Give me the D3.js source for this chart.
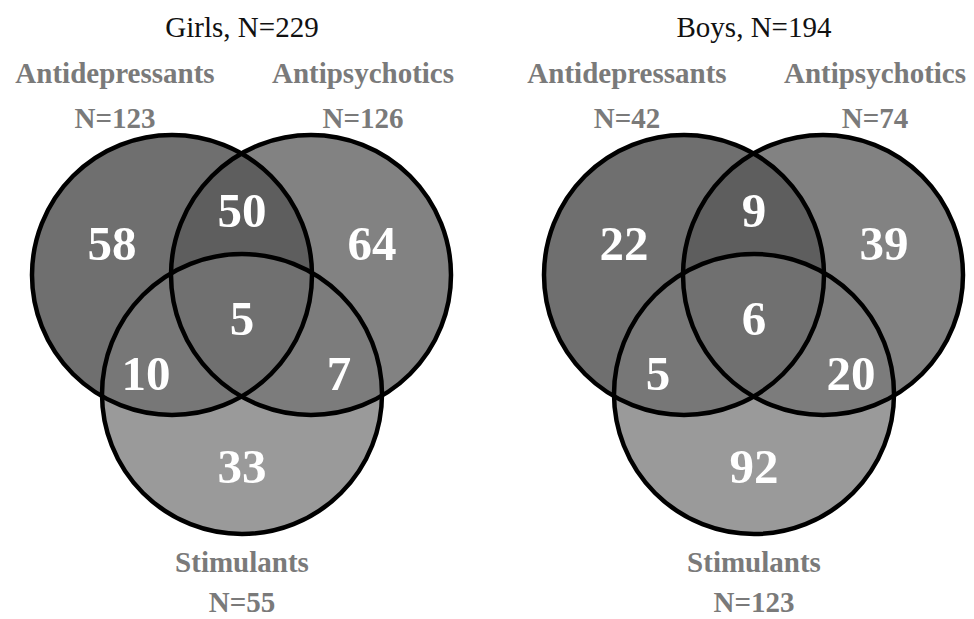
<!DOCTYPE html>
<html>
<head>
<meta charset="utf-8">
<script src="https://cdn.jsdelivr.net/npm/d3@7"></script>
<style>
  body { margin: 0; background: #fff; }
  svg text { font-family: "Liberation Serif", "Times New Roman", serif; }
</style>
</head>
<body>
<svg id="chart"></svg>
<script>
// Chart data
const panelTitles = ["Girls, N=229", "Boys, N=194"];
const setNames = ["Antidepressants", "Antipsychotics", "Stimulants"];
const setTotals = [[123, 126, 55], [42, 74, 123]];
// region order: A only, A∩B, B only, A∩B∩C, A∩C, B∩C, C only
const regionKeys = ["A", "AB", "B", "ABC", "AC", "BC", "C"];
const girlsCounts = [58, 50, 64, 5, 10, 7, 33];
const boysCounts = [22, 9, 39, 6, 5, 20, 92];

const svgWidth = 974;
const svgHeight = 619;

const svg = d3.select("#chart")
    .attr("width", svgWidth)
    .attr("height", svgHeight);

// layout in a local unit space, mapped per panel with scales
const circles = [
    { key: "A", x: -70, y: -60 },
    { key: "B", x: 69, y: -60 },
    { key: "C", x: 0, y: 59 }
];
const radius = 140;
// baselines of the region numbers
const regionPos = {
    A:   { x: -130, y: -75 },
    AB:  { x: 0,    y: -108 },
    B:   { x: 130,  y: -75 },
    ABC: { x: 0,    y: 0 },
    AC:  { x: -96,  y: 55 },
    BC:  { x: 97,   y: 55 },
    C:   { x: 0,    y: 148 }
};
const regionFill = {
    A: "#6f6f6f", B: "#828282", C: "#9a9a9a",
    AB: "#5e5e5e", AC: "#777777", BC: "#7c7c7c", ABC: "#707070"
};

const panelCenters = [242, 754];

function drawPanel(i, counts) {
    const x = d3.scaleLinear().domain([-250, 250]).range([panelCenters[i] - 250, panelCenters[i] + 250]);
    const y = d3.scaleLinear().domain([-335, 284]).range([0, svgHeight]);
    const g = svg.append("g");

    // clip paths for each circle
    const defs = g.append("defs");
    circles.forEach(c => {
        defs.append("clipPath")
            .attr("id", `clip${i}${c.key}`)
            .append("circle")
            .attr("cx", x(c.x)).attr("cy", y(c.y)).attr("r", radius);
    });
    // nested clip for A∩B
    defs.append("clipPath")
        .attr("id", `clip${i}AB`)
        .attr("clip-path", `url(#clip${i}A)`)
        .append("circle")
        .attr("cx", x(circles[1].x)).attr("cy", y(circles[1].y)).attr("r", radius);

    const byKey = {};
    circles.forEach(c => byKey[c.key] = c);

    // single circle fills
    g.selectAll(".fill")
        .data(circles)
        .enter()
        .append("circle")
        .attr("cx", d => x(d.x))
        .attr("cy", d => y(d.y))
        .attr("r", radius)
        .style("fill", d => regionFill[d.key]);

    // overlaps: draw a circle clipped by another
    const overlaps = [
        { key: "AB", circle: "B", clip: "A" },
        { key: "AC", circle: "C", clip: "A" },
        { key: "BC", circle: "C", clip: "B" },
        { key: "ABC", circle: "C", clip: "AB" }
    ];
    g.selectAll(".overlap")
        .data(overlaps)
        .enter()
        .append("circle")
        .attr("clip-path", d => `url(#clip${i}${d.clip})`)
        .attr("cx", d => x(byKey[d.circle].x))
        .attr("cy", d => y(byKey[d.circle].y))
        .attr("r", radius)
        .style("fill", d => regionFill[d.key]);

    // outlines
    g.selectAll(".outline")
        .data(circles)
        .enter()
        .append("circle")
        .attr("cx", d => x(d.x))
        .attr("cy", d => y(d.y))
        .attr("r", radius)
        .style("fill", "none")
        .style("stroke", "#000")
        .style("stroke-width", 4.5);

    // region counts
    g.selectAll(".count")
        .data(regionKeys.map((k, j) => ({ key: k, value: counts[j] })))
        .enter()
        .append("text")
        .attr("x", d => x(regionPos[d.key].x))
        .attr("y", d => y(regionPos[d.key].y))
        .attr("text-anchor", "middle")
        .style("font-size", "49px")
        .style("font-weight", "bold")
        .style("fill", "#fff")
        .text(d => d.value);

    // title
    g.append("text")
        .attr("x", x(0))
        .attr("y", 37)
        .attr("text-anchor", "middle")
        .style("font-size", "29px")
        .style("fill", "#111")
        .text(panelTitles[i]);

    // set labels
    const labelPos = [
        { x: -127, nameY: 83, nY: 128 },
        { x: 121, nameY: 83, nY: 128 },
        { x: 0, nameY: 572, nY: 612 }
    ];
    labelPos.forEach((p, j) => {
        g.append("text")
            .attr("x", x(p.x)).attr("y", p.nameY)
            .attr("text-anchor", "middle")
            .style("font-size", "29px").style("font-weight", "bold")
            .style("fill", "#7a7a7a")
            .text(setNames[j]);
        g.append("text")
            .attr("x", x(p.x)).attr("y", p.nY)
            .attr("text-anchor", "middle")
            .style("font-size", "29px").style("font-weight", "bold")
            .style("fill", "#7a7a7a")
            .text("N=" + setTotals[i][j]);
    });
}

drawPanel(0, girlsCounts);
drawPanel(1, boysCounts);
</script>
</body>
</html>
